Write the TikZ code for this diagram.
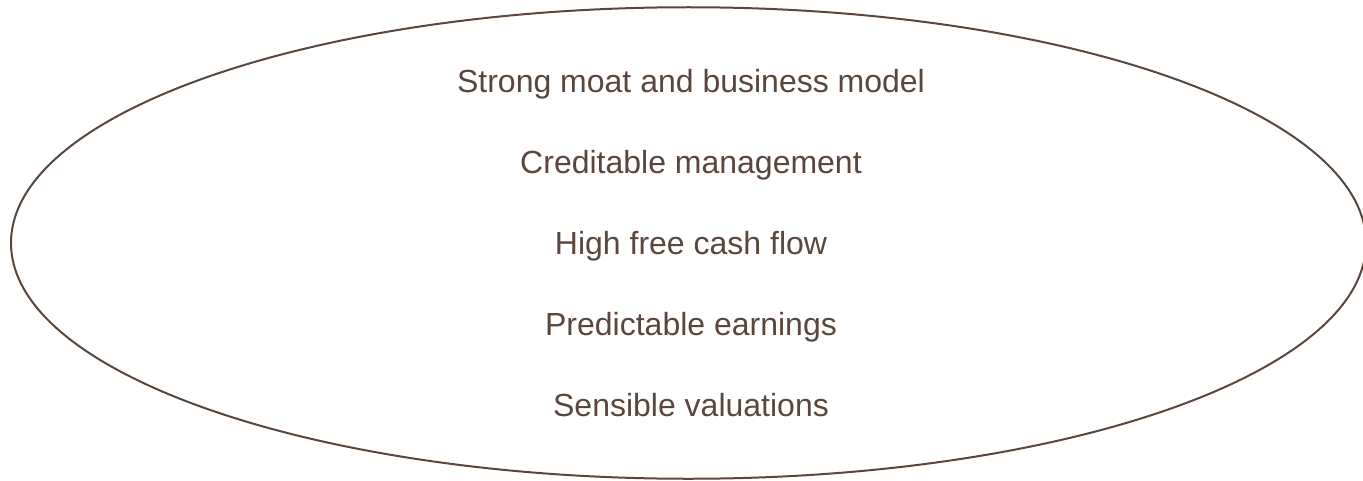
\documentclass[tikz,border=0pt]{standalone}
\usepackage{fontspec}
\setmainfont{Liberation Sans}
\usetikzlibrary{positioning, shapes.geometric}
\definecolor{moatbrown}{RGB}{89,71,61}
\tikzset{
x=0.5pt, y=-0.5pt, % one unit is one pixel of the reference
node distance=40.5pt, on grid, % centre to centre of the criteria
every criterion/.style={text=moatbrown, font=\fontsize{16}{19}\selectfont, inner sep=0pt, text height=11.5pt, text depth=0pt},
}

\begin{document}
\begin{tikzpicture}
    \useasboundingbox (0,0) rectangle (1363,481);
    \node[ellipse, draw=moatbrown, line width=1pt, minimum width=677.5pt, minimum height=235.75pt] (moat) at (688.5,243) {};
    \node[every criterion] (strong) at (691,81) {Strong moat and business model};
    \node[every criterion, below=of strong] (mgmt) {Creditable management};
    \node[every criterion, below=of mgmt] (fcf) {High free cash flow};
    \node[every criterion, below=of fcf] (earn) {Predictable earnings};
    \node[every criterion, below=of earn] (val) {Sensible valuations};
  \end{tikzpicture}
\end{document}
